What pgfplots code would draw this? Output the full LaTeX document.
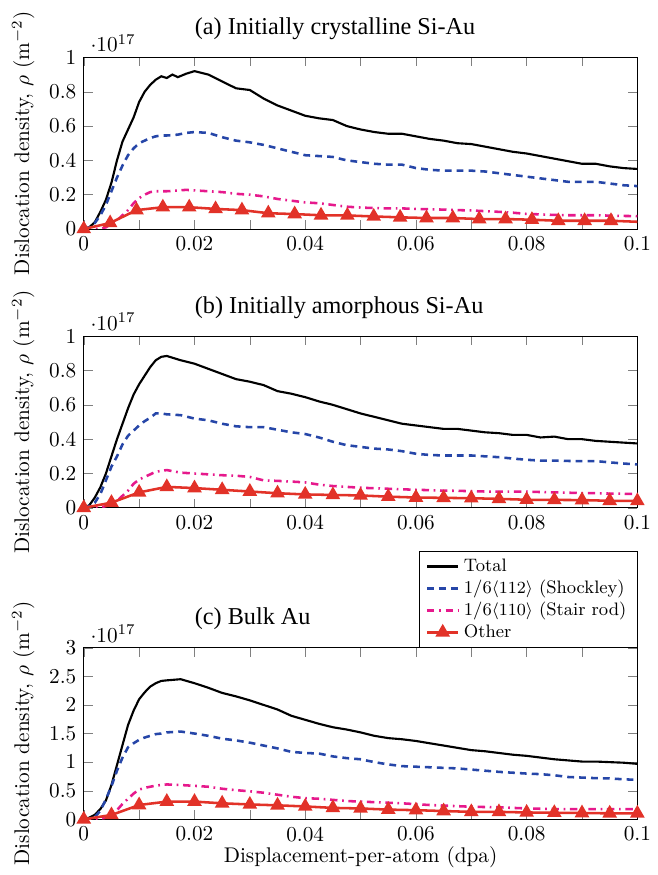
\documentclass[border={2.3pt 0pt 0pt 2pt}]{standalone}
\usepackage{fontspec}
\usepackage{pgfplots}
\usepackage{pgfplotstable}
\pgfplotsset{compat=1.18}
\newfontfamily\timesfont{Liberation Serif}
\definecolor{blueS}{RGB}{38,70,168}
\definecolor{pinkS}{RGB}{230,25,140}
\definecolor{redS}{RGB}{226,50,40}

% Panel (a)
\pgfplotstableread{
x tot shk sta
0 0 0 0
0.001 0.01 0.01 0
0.002 0.04 0.035 0
0.003 0.10 0.08 0.002
0.004 0.17 0.14 0.01
0.005 0.27 0.22 0.03
0.006 0.40 0.30 0.05
0.007 0.51 0.37 0.08
0.008 0.58 0.43 0.11
0.009 0.65 0.47 0.15
0.010 0.74 0.50 0.18
0.011 0.80 0.515 0.20
0.012 0.84 0.53 0.215
0.013 0.87 0.54 0.22
0.014 0.89 0.545 0.22
0.015 0.88 0.545 0.22
0.016 0.90 0.547 0.222
0.017 0.885 0.55 0.225
0.0185 0.905 0.56 0.228
0.02 0.92 0.565 0.225
0.0225 0.90 0.56 0.22
0.025 0.86 0.535 0.215
0.0275 0.82 0.515 0.205
0.03 0.81 0.505 0.20
0.0325 0.76 0.49 0.19
0.035 0.72 0.47 0.175
0.0375 0.69 0.45 0.165
0.04 0.66 0.43 0.155
0.0425 0.645 0.425 0.15
0.045 0.635 0.42 0.14
0.0475 0.60 0.40 0.13
0.05 0.58 0.39 0.125
0.0525 0.565 0.38 0.122
0.055 0.555 0.375 0.12
0.0575 0.555 0.375 0.12
0.06 0.54 0.355 0.117
0.0625 0.525 0.345 0.115
0.065 0.515 0.34 0.113
0.0675 0.50 0.34 0.11
0.07 0.495 0.34 0.108
0.0725 0.48 0.335 0.104
0.075 0.465 0.325 0.10
0.0775 0.45 0.315 0.095
0.08 0.44 0.305 0.088
0.0825 0.425 0.295 0.085
0.085 0.41 0.285 0.082
0.0875 0.395 0.275 0.08
0.09 0.38 0.275 0.08
0.0925 0.38 0.275 0.08
0.095 0.365 0.265 0.078
0.0975 0.355 0.255 0.076
0.1 0.35 0.25 0.075
}\tabA
\pgfplotstableread{
x oth
0 0
0.004762 0.035
0.009524 0.11
0.014286 0.127
0.019048 0.127
0.023810 0.117
0.028571 0.11
0.033333 0.092
0.038095 0.087
0.042857 0.08
0.047619 0.079
0.052381 0.073
0.057143 0.068
0.061905 0.064
0.066667 0.064
0.071429 0.058
0.076190 0.058
0.080952 0.054
0.085714 0.048
0.090476 0.048
0.095238 0.048
0.1 0.042
}\othA

% Panel (b)
\pgfplotstableread{
x tot shk sta
0 0 0 0
0.001 0.015 0.01 0
0.002 0.06 0.03 0
0.003 0.12 0.08 0.003
0.004 0.20 0.16 0.01
0.005 0.30 0.24 0.02
0.006 0.40 0.30 0.04
0.007 0.49 0.37 0.07
0.008 0.58 0.42 0.10
0.009 0.66 0.45 0.14
0.010 0.72 0.48 0.165
0.011 0.77 0.505 0.18
0.012 0.82 0.525 0.195
0.013 0.86 0.55 0.21
0.014 0.88 0.55 0.215
0.015 0.885 0.545 0.22
0.0175 0.86 0.54 0.205
0.02 0.84 0.52 0.20
0.0225 0.81 0.51 0.195
0.025 0.78 0.49 0.19
0.0275 0.75 0.475 0.187
0.03 0.735 0.47 0.18
0.0325 0.715 0.47 0.16
0.035 0.68 0.455 0.157
0.0375 0.665 0.44 0.153
0.04 0.645 0.43 0.148
0.0425 0.62 0.41 0.135
0.045 0.60 0.385 0.127
0.0475 0.575 0.365 0.122
0.05 0.55 0.355 0.117
0.0525 0.53 0.345 0.114
0.055 0.51 0.34 0.111
0.0575 0.49 0.33 0.108
0.06 0.48 0.315 0.105
0.0625 0.47 0.308 0.103
0.065 0.46 0.305 0.10
0.0675 0.46 0.305 0.099
0.07 0.45 0.305 0.097
0.0725 0.44 0.30 0.095
0.075 0.435 0.295 0.094
0.0775 0.425 0.287 0.094
0.08 0.425 0.28 0.094
0.0825 0.41 0.275 0.092
0.085 0.415 0.275 0.09
0.0875 0.40 0.273 0.088
0.09 0.40 0.272 0.086
0.0925 0.39 0.272 0.085
0.095 0.385 0.265 0.083
0.0975 0.38 0.258 0.082
0.1 0.375 0.253 0.08
}\tabB
\pgfplotstableread{
x oth
0 0
0.005 0.03
0.01 0.09
0.015 0.122
0.02 0.115
0.025 0.105
0.03 0.095
0.035 0.085
0.04 0.078
0.045 0.075
0.05 0.072
0.055 0.065
0.06 0.06
0.065 0.058
0.07 0.056
0.075 0.052
0.08 0.047
0.085 0.046
0.09 0.045
0.095 0.041
0.1 0.04
}\othB

% Panel (c)
\pgfplotstableread{
x tot shk sta
0 0 0 0
0.001 0.03 0.01 0
0.002 0.08 0.04 0.005
0.003 0.18 0.15 0.01
0.004 0.33 0.35 0.03
0.005 0.60 0.58 0.06
0.006 0.95 0.85 0.16
0.007 1.30 1.08 0.27
0.008 1.65 1.26 0.36
0.009 1.90 1.33 0.45
0.010 2.10 1.39 0.52
0.011 2.22 1.43 0.55
0.012 2.32 1.46 0.57
0.013 2.38 1.49 0.59
0.014 2.42 1.50 0.60
0.015 2.43 1.52 0.61
0.0175 2.45 1.535 0.60
0.02 2.38 1.50 0.585
0.0225 2.30 1.46 0.57
0.025 2.21 1.41 0.535
0.0275 2.15 1.38 0.51
0.03 2.08 1.34 0.49
0.0325 2.00 1.29 0.465
0.035 1.92 1.24 0.43
0.0375 1.81 1.18 0.395
0.04 1.74 1.16 0.37
0.0425 1.67 1.15 0.36
0.045 1.61 1.10 0.34
0.0475 1.57 1.07 0.32
0.05 1.52 1.05 0.31
0.0525 1.46 1.00 0.30
0.055 1.42 0.96 0.29
0.0575 1.40 0.93 0.28
0.06 1.37 0.92 0.265
0.0625 1.33 0.91 0.25
0.065 1.29 0.90 0.24
0.0675 1.25 0.89 0.23
0.07 1.21 0.87 0.22
0.0725 1.19 0.85 0.215
0.075 1.16 0.83 0.21
0.0775 1.13 0.815 0.20
0.08 1.11 0.80 0.19
0.0825 1.08 0.79 0.185
0.085 1.05 0.77 0.18
0.0875 1.03 0.74 0.18
0.09 1.01 0.73 0.18
0.0925 1.01 0.72 0.18
0.095 1.00 0.715 0.18
0.0975 0.99 0.70 0.18
0.1 0.97 0.69 0.18
}\tabC
\pgfplotstableread{
x oth
0 0
0.005 0.076
0.01 0.25
0.015 0.31
0.02 0.31
0.025 0.28
0.03 0.26
0.035 0.245
0.04 0.225
0.045 0.20
0.05 0.19
0.055 0.17
0.06 0.16
0.065 0.145
0.07 0.13
0.075 0.13
0.08 0.12
0.085 0.115
0.09 0.11
0.095 0.105
0.1 0.105
}\othC

\pgfplotsset{
  panel/.style={
    scale only axis,
    width=260.7pt, height=80.8pt,
    xmin=0, xmax=0.1, ymin=0,
    xtick={0,0.01,0.02,0.03,0.04,0.05,0.06,0.07,0.08,0.09,0.1},
    xticklabels={0,,0.02,,0.04,,0.06,,0.08,,0.1},
    scaled x ticks=false,
    scaled y ticks=manual:{$\cdot 10^{17}$}{\pgfmathparse{##1}},
    ylabel={Dislocation density, $\rho$ ($\mathrm{m}^{-2}$)},
    title style={font=\timesfont\fontsize{11.4}{13.5}\selectfont, at={(0.2,1)}, anchor=base west, inner sep=0pt, yshift=4.8pt},
    clip=true,
  },
  totS/.style={black, line width=1pt, no marks},
  shkS/.style={blueS, line width=1.2pt, dash pattern=on 3.2pt off 2.4pt, no marks},
  staS/.style={pinkS, line width=1.2pt, dash pattern=on 3.5pt off 2.2pt on 0.8pt off 2.2pt, no marks},
  othS/.style={redS, line width=1.2pt, mark=triangle*, mark size=2.8pt, mark options={solid, fill=redS}},
}

\begin{document}
\begin{tikzpicture}
\begin{axis}[panel, name=a, at={(0,0)}, anchor=north west,
  ymax=1, ytick={0,0.2,0.4,0.6,0.8,1},
  title={(a) Initially crystalline Si-Au}]
\addplot[totS] table[x=x,y=tot]{\tabA};
\addplot[shkS] table[x=x,y=shk]{\tabA};
\addplot[staS] table[x=x,y=sta]{\tabA};
\addplot[othS, mark indices={1,...,21}] table[x=x,y=oth]{\othA};
\end{axis}
\begin{axis}[panel, name=b, at={(0,-131.3pt)}, anchor=north west,
  ymax=1, ytick={0,0.2,0.4,0.6,0.8,1},
  title={(b) Initially amorphous Si-Au}]
\addplot[totS] table[x=x,y=tot]{\tabB};
\addplot[shkS] table[x=x,y=shk]{\tabB};
\addplot[staS] table[x=x,y=sta]{\tabB};
\addplot[othS] table[x=x,y=oth]{\othB};
\end{axis}
\begin{axis}[panel, name=c, at={(0,-278pt)}, anchor=north west,
  ymax=3, ytick={0,0.5,1,1.5,2,2.5,3},
  xlabel={Displacement-per-atom (dpa)},
  xlabel style={yshift=4.5pt},
  title={(c) Bulk Au},
  legend image code/.code={\draw[mark repeat=2,mark phase=2,#1] plot coordinates {(0cm,0cm) (0.26cm,0cm) (0.52cm,0cm)};},
  legend style={at={(1,1)}, anchor=south east, font=\fontsize{8.5}{10}\selectfont, draw=black, fill=white, cells={anchor=west}, nodes={inner ysep=1.3pt}}]
\addplot[totS] table[x=x,y=tot]{\tabC};
\addlegendentry{Total}
\addplot[shkS] table[x=x,y=shk]{\tabC};
\addlegendentry{1/6$\langle 112\rangle$ (Shockley)}
\addplot[staS] table[x=x,y=sta]{\tabC};
\addlegendentry{1/6$\langle 110\rangle$ (Stair rod)}
\addplot[othS] table[x=x,y=oth]{\othC};
\addlegendentry{Other}
\end{axis}
\end{tikzpicture}
\end{document}
